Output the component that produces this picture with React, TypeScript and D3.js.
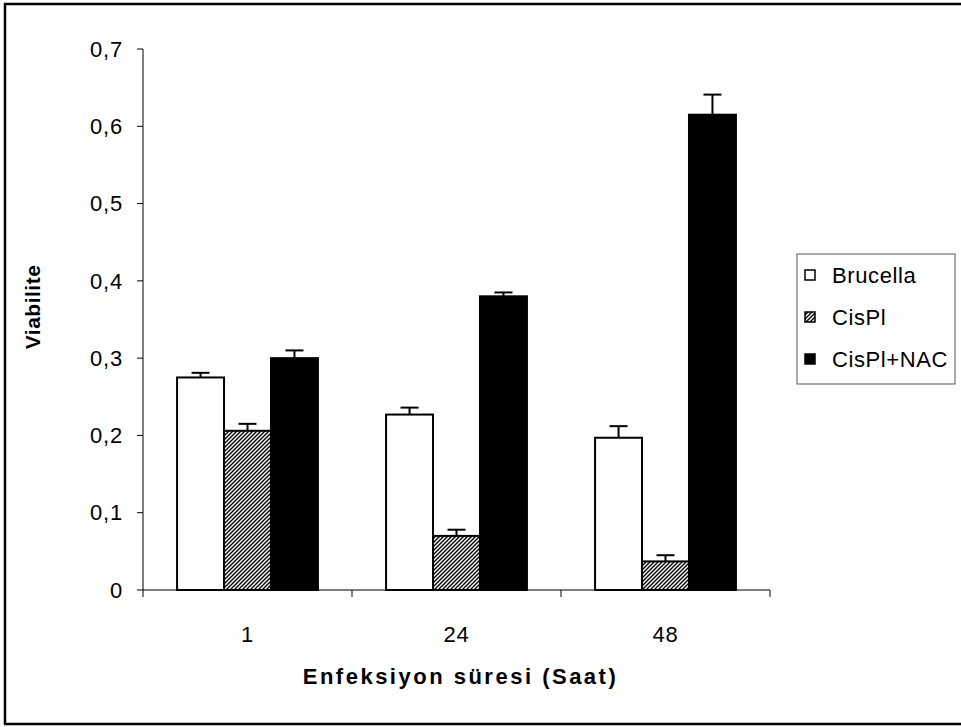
import React from "react";
import * as d3 from "d3";

// Viability per infection time (hours) for three treatment groups
const categories = ["1", "24", "48"];
const seriesNames = ["Brucella", "CisPl", "CisPl+NAC"];
const brucella = [0.275, 0.227, 0.197];
const brucellaErr = [0.006, 0.009, 0.015];
const cispl = [0.206, 0.07, 0.037];
const cisplErr = [0.009, 0.008, 0.008];
const cisplNac = [0.3, 0.38, 0.615];
const cisplNacErr = [0.01, 0.005, 0.026];
const yTicks = [0, 0.1, 0.2, 0.3, 0.4, 0.5, 0.6, 0.7];

const W = 961;
const H = 727;
const plot = { left: 143, right: 770, top: 49, bottom: 590 };
const FONT = "Arial, 'Liberation Sans', Helvetica, sans-serif";

export default function App() {
  const values = [brucella, cispl, cisplNac];
  const errors = [brucellaErr, cisplErr, cisplNacErr];
  const fills = ["#ffffff", "url(#hatch)", "#000000"];

  const x = d3.scaleBand<string>().domain(categories).range([plot.left, plot.right]).padding(0);
  const bw = x.bandwidth();
  const inner = d3
    .scaleBand<string>()
    .domain(seriesNames)
    .range([bw * 0.163, bw * 0.837])
    .padding(0);
  const y = d3.scaleLinear().domain([0, 0.7]).range([plot.bottom, plot.top]);
  const fmt = (v: number) => (v === 0 ? "0" : d3.format(".1f")(v).replace(".", ","));

  const legendY = [275, 317, 359];

  return (
    <svg
      width={W}
      height={H}
      style={{ position: "absolute", left: 0, top: 0, background: "#fff" }}
      fontFamily={FONT}
    >
      <defs>
        <pattern id="hatch" patternUnits="userSpaceOnUse" width="4" height="4">
          <rect width="4" height="4" fill="#fff" />
          <path d="M-1,1 l2,-2 M0,4 l4,-4 M3,5 l2,-2" stroke="#000" strokeWidth="1.4" />
        </pattern>
      </defs>

      {/* outer frame */}
      <rect x={5} y={4} width={970} height={720} fill="none" stroke="#000" strokeWidth={2.5} />

      {/* bars */}
      {seriesNames.map((s, si) =>
        categories.map((c, ci) => {
          const bx = (x(c) as number) + (inner(s) as number);
          const v = values[si][ci];
          const e = errors[si][ci];
          const w = inner.bandwidth();
          const cx = bx + w / 2;
          return (
            <g key={s + c}>
              <line x1={cx} x2={cx} y1={y(v)} y2={y(v + e)} stroke="#000" strokeWidth={2} />
              <line x1={cx - 9} x2={cx + 9} y1={y(v + e)} y2={y(v + e)} stroke="#000" strokeWidth={2} />
              <rect
                x={bx}
                y={y(v)}
                width={w}
                height={plot.bottom - y(v)}
                fill={fills[si]}
                stroke="#000"
                strokeWidth={2}
              />
            </g>
          );
        })
      )}

      {/* y axis */}
      <line x1={plot.left} x2={plot.left} y1={plot.top} y2={plot.bottom} stroke="#000" strokeWidth={1} />
      {yTicks.map((t) => (
        <g key={t}>
          <line x1={plot.left - 6} x2={plot.left} y1={y(t)} y2={y(t)} stroke="#000" strokeWidth={1} />
          <text x={123} y={y(t)} dy="0.35em" textAnchor="end" fontSize={22} letterSpacing={0.8}>
            {fmt(t)}
          </text>
        </g>
      ))}

      {/* x axis */}
      <line x1={plot.left} x2={plot.right} y1={plot.bottom} y2={plot.bottom} stroke="#000" strokeWidth={1} />
      {[...categories.map((c) => x(c) as number), plot.right].map((px, i) => (
        <line key={i} x1={px} x2={px} y1={plot.bottom} y2={plot.bottom + 7} stroke="#000" strokeWidth={1} />
      ))}
      {categories.map((c) => (
        <text key={c} x={(x(c) as number) + bw / 2} y={634} dy="0.35em" textAnchor="middle" fontSize={22} letterSpacing={0.8}>
          {c}
        </text>
      ))}

      {/* axis titles */}
      <text
        x={(plot.left + plot.right) / 2 + 4}
        y={676}
        dy="0.35em"
        textAnchor="middle"
        fontSize={22}
        fontWeight="bold"
        letterSpacing={2.5}
      >
        Enfeksiyon süresi (Saat)
      </text>
      <text
        transform={`translate(33, 307) rotate(-90)`}
        dy="0.35em"
        textAnchor="middle"
        fontSize={21}
        fontWeight="bold"
        letterSpacing={0.5}
      >
        Viabilite
      </text>

      {/* legend */}
      <rect x={797} y={254} width={158} height={130} fill="#fff" stroke="#555" strokeWidth={1} />
      {seriesNames.map((s, i) => (
        <g key={s}>
          <rect x={805} y={legendY[i] - 5} width={10} height={10} fill={fills[i]} stroke="#000" strokeWidth={1.5} />
          <text x={832} y={legendY[i]} dy="0.35em" fontSize={22} letterSpacing={0.6}>
            {s}
          </text>
        </g>
      ))}
    </svg>
  );
}
